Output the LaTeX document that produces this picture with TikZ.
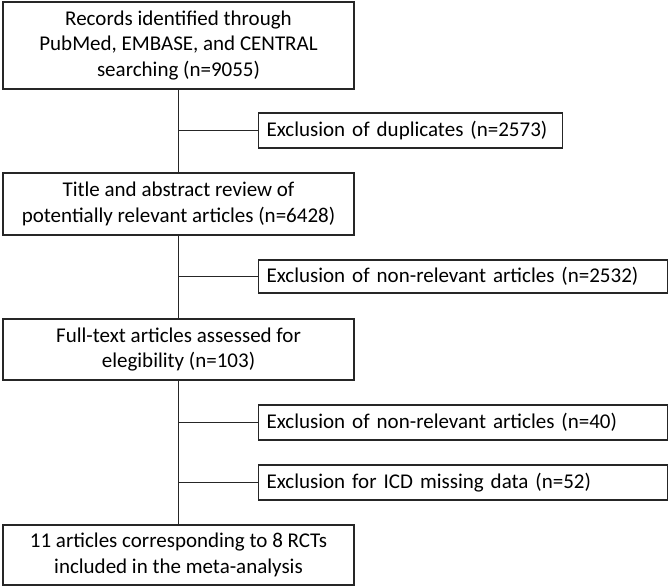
\documentclass[tikz,border=0pt]{standalone}
\usepackage{fontspec}
\setmainfont{Carlito}
\usetikzlibrary{positioning}
\tikzset{
	mainbox/.style={rectangle, draw=black!85, line width=1.1pt, align=center, minimum width=351pt, inner sep=2pt, font=\fontsize{21}{25.5}\selectfont},
	exclbox/.style={rectangle, draw=black!85, line width=1.1pt, align=left, anchor=west, minimum height=35pt, inner xsep=8pt, inner ysep=2pt, font=\fontsize{21}{25.5}\selectfont},
	link/.style={draw=black!85, line width=1.3pt}
}

\begin{document}
\begin{tikzpicture}[x=1pt, y=-1pt]
	\useasboundingbox (0,0) rectangle (669,588);
	
	% --- Main stream of the flow ---
	\node[mainbox, minimum height=87pt] (records) at (178.5,45.5) {Records identified through\\PubMed, EMBASE, and CENTRAL\\searching (n=9055)};
	\node[mainbox, minimum height=62pt] (screen) at (178.5,204) {Title and abstract review of\\potentially relevant articles (n=6428)};
	\node[mainbox, minimum height=61pt] (fulltext) at (178.5,349.5) {Full-text articles assessed for\\elegibility (n=103)};
	\node[mainbox, minimum height=60pt] (included) at (178.5,555) {11 articles corresponding to 8 RCTs\\included in the meta-analysis};
	
	% --- Exclusions on the right ---
	\node[exclbox, text width=288pt] (dupl) at (258,130.5) {Exclusion of duplicates (n=2573)};
	\node[exclbox, text width=393pt, minimum height=33pt] (exclnr) at (258,276.5) {Exclusion of non-relevant articles (n=2532)};
	\node[exclbox, text width=393pt] (exclft) at (258,422.5) {Exclusion of non-relevant articles (n=40)};
	\node[exclbox, text width=393pt] (exclicd) at (258,482.5) {Exclusion for ICD missing data (n=52)};
	
	% Vertical trunk
	\draw[link] (records) -- (screen);
	\draw[link] (screen) -- (fulltext);
	\draw[link] (fulltext) -- (included);
	
	% Branches to the exclusions
	\draw[link] (records.south |- dupl.west) -- (dupl.west);
	\draw[link] (screen.south |- exclnr.west) -- (exclnr.west);
	\draw[link] (fulltext.south |- exclft.west) -- (exclft.west);
	\draw[link] (fulltext.south |- exclicd.west) -- (exclicd.west);
	
\end{tikzpicture}
\end{document}
